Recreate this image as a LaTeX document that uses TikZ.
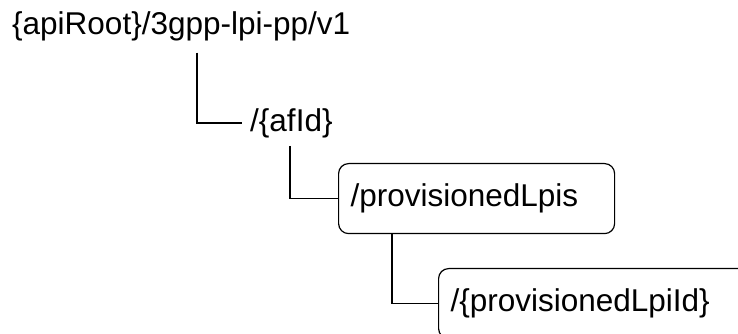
\documentclass[tikz,border=0pt]{standalone}
\usepackage{fontspec}
\setmainfont{Liberation Sans}
\usetikzlibrary{calc}

\begin{document}
\begin{tikzpicture}[%
  x=1pt, y=1pt,
  every node/.append style={%
    font=\fontsize{31.5}{38}\selectfont,
  },
  res/.style={inner xsep=8pt, inner ysep=0pt},
  resbox/.style={%
    draw,
    line width=1.2pt,
    rounded corners=10pt,
    minimum height=70pt,
    inner xsep=12pt,
    align=left,
    anchor=north west,
  },
  link/.style={black, line width=1.2pt},
  ]
  \clip (0,0) rectangle (738,334);
  \node[res, anchor=base west] (root) at (4,299) {\{apiRoot\}/3gpp-lpi-pp/v1};
  \node[res, anchor=west] (afid) at (242,211) {/\{afId\}};
  \node[resbox, text width=252pt] (lpis) at (338,171) {/provisionedLpis};
  \node[resbox, text width=320pt] (lpiid) at (438,66) {/\{provisionedLpiId\}};
% tree links
  \draw[link] ($(root.south west)+(193,-11)$) |- (afid.west);
  \draw[link] ($(afid.south west)+(48,-8)$) |- (lpis.west);
  \draw[link] ($(lpis.south west)+(54,0)$) |- (lpiid.west);
\end{tikzpicture}
\end{document}
